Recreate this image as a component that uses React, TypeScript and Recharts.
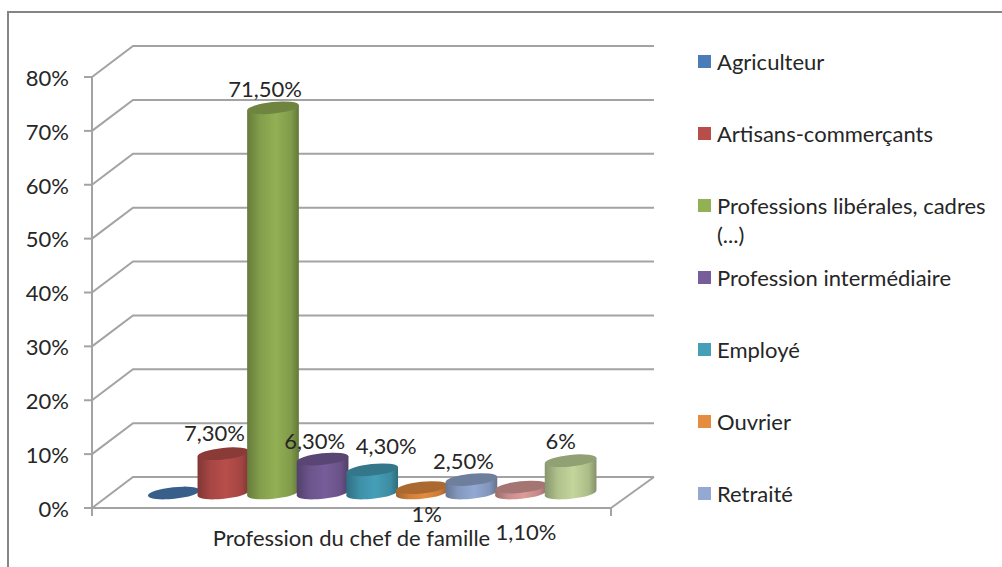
import { BarChart, Bar, XAxis, YAxis, CartesianGrid, Legend, LabelList } from 'recharts'

const category = 'Profession du chef de famille'
const seriesNames = [
  'Agriculteur',
  'Artisans-commerçants',
  'Professions libérales, cadres (...)',
  'Profession intermédiaire',
  'Employé',
  'Ouvrier',
  'Retraité',
  'Sans profession',
  'Autre',
]
const seriesValues = [0, 7.3, 71.5, 6.3, 4.3, 1, 2.5, 1.1, 6]
const seriesColors = ['#4a7db8', '#b84e4b', '#92b054', '#775d9a', '#459fb8', '#e48c40', '#93a9d3', '#dc9c9a', '#c3d69b']
const yTicks = [0, 10, 20, 30, 40, 50, 60, 70, 80]
const visibleLegendItems = 7

// labels were dragged by hand in the original, offsets from the top of each cylinder
const labelNudges = [
  [0, 0],
  [-9, -20],
  [-8, -18],
  [-8, -18],
  [14, -24],
  [5, 27],
  [-8, -18],
  [5, 45],
  [-10, -19],
]

const FONT = 'Lato, sans-serif'
const FONT_SIZE = 22
const TEXT = '#262626'
const GRID = '#a3a3a3'
const DEPTH_X = 41
const DEPTH_Y = 31
const BAR_DX = 21
const BAR_DY = 15
const BAR_SIZE = 49.6
const TILT = 6
const RY = 5.8

// dataKey is a plain id, series names hold dots that recharts would read as a path
const seriesKey = (i: number) => `s${i}`

const chartData = [
  seriesValues.reduce<Record<string, string | number>>(
    (row, value, i) => {
      row[seriesKey(i)] = value
      return row
    },
    { name: category },
  ),
]

const shade = (hex: string, k: number) => {
  const n = parseInt(hex.slice(1), 16)
  const c = [(n >> 16) & 255, (n >> 8) & 255, n & 255].map((v) => Math.round(v * k))
  return `rgb(${c[0]},${c[1]},${c[2]})`
}

const formatPct = (v: number) => (Number.isInteger(v) ? `${v}%` : `${v.toFixed(2).replace('.', ',')}%`)

// Cylinder drawn from the bar rectangle, pushed back to the middle of the floor
const Cylinder = ({ x, y, width, height, fill, seriesIndex }: any) => {
  const rx = width / 2 + 1.2
  const cx = x + width / 2 + BAR_DX
  const top = y - BAR_DY
  const base = y + height - BAR_DY
  const a = (TILT * Math.PI) / 180
  const ex = rx * Math.cos(a)
  const ey = rx * Math.sin(a)
  const id = `cyl-${seriesIndex}`
  return (
    <g>
      <defs>
        <linearGradient id={id} gradientUnits="userSpaceOnUse" x1={cx - ex} y1="0" x2={cx + ex} y2="0">
          <stop offset="0%" stopColor={shade(fill, 0.7)} />
          <stop offset="25%" stopColor={shade(fill, 0.9)} />
          <stop offset="55%" stopColor={fill} />
          <stop offset="85%" stopColor={shade(fill, 0.88)} />
          <stop offset="100%" stopColor={shade(fill, 0.68)} />
        </linearGradient>
      </defs>
      {height > 0 && (
        <path
          d={`M${cx - ex},${top + ey} L${cx - ex},${base + ey} A${rx},${RY} ${-TILT} 0 0 ${cx + ex},${base - ey} L${cx + ex},${top - ey} Z`}
          fill={`url(#${id})`}
        />
      )}
      <ellipse
        cx={cx}
        cy={top}
        rx={rx}
        ry={RY}
        transform={`rotate(${-TILT} ${cx} ${top})`}
        fill={shade(fill, 0.75)}
      />
    </g>
  )
}

const GridLine = ({ x1, x2, y1 }: any) => (
  <path
    d={`M${x1},${y1} L${x1 + DEPTH_X},${y1 - DEPTH_Y} L${x2 + DEPTH_X + 2},${y1 - DEPTH_Y}`}
    fill="none"
    stroke={GRID}
    strokeWidth={2}
  />
)

const makeLabel = (i: number) => (props: any) => {
  const { x, y, width, value } = props
  if (!value) return null
  return (
    <text
      x={x + width / 2 + BAR_DX + labelNudges[i][0]}
      y={y - BAR_DY + labelNudges[i][1]}
      dy="0.35em"
      textAnchor="middle"
      fontFamily={FONT}
      fontSize={FONT_SIZE}
      fill={TEXT}
    >
      {formatPct(value)}
    </text>
  )
}

const CategoryTick = ({ x, y, payload }: any) => (
  <g>
    <line x1={92} x2={92} y1={y - 8} y2={y} stroke={GRID} strokeWidth={2} />
    <line x1={611} x2={611} y1={y - 8} y2={y} stroke={GRID} strokeWidth={2} />
    <line x1={611} x2={611 + DEPTH_X + 2} y1={y - 8} y2={y - 8 - DEPTH_Y} stroke={GRID} strokeWidth={2} />
    <text x={x} y={y + 30} textAnchor="middle" fontFamily={FONT} fontSize={FONT_SIZE} fill={TEXT}>
      {payload.value}
    </text>
  </g>
)

const LegendList = ({ payload }: any) => (
  <div style={{ fontFamily: FONT, fontSize: FONT_SIZE, color: TEXT, lineHeight: '29px' }}>
    {(payload || []).slice(0, visibleLegendItems).map((item: any) => (
      <div key={item.value} style={{ height: 72, position: 'relative', paddingLeft: 19, width: 285 }}>
        <span
          style={{
            position: 'absolute',
            left: 0,
            top: 8,
            width: 13,
            height: 13,
            background: item.color,
          }}
        />
        {item.value}
      </div>
    ))}
  </div>
)

export default function App() {
  return (
    <div
      style={{
        position: 'absolute',
        left: 0,
        top: 0,
        width: 1002,
        height: 567,
        overflow: 'hidden',
        background: '#fff',
      }}
    >
      <div
        style={{
          position: 'absolute',
          left: 7,
          top: 11,
          width: 1200,
          height: 800,
          border: '2px solid #858585',
        }}
      />
      <BarChart
        width={1002}
        height={567}
        data={chartData}
        margin={{ top: 77, right: 391, bottom: 0, left: 8 }}
        barSize={BAR_SIZE}
        barGap={0}
        style={{ position: 'absolute', left: 0, top: 0 }}
      >
        <CartesianGrid vertical={false} horizontal={(p: any) => <GridLine key={p.key} {...p} />} />
        <XAxis
          dataKey="name"
          height={59}
          tickLine={false}
          axisLine={{ stroke: GRID, strokeWidth: 2 }}
          tick={CategoryTick}
          interval={0}
        />
        <YAxis
          width={84}
          domain={[0, 80]}
          ticks={yTicks}
          tickFormatter={(v: number) => `${v}%`}
          axisLine={{ stroke: GRID, strokeWidth: 2 }}
          tickLine={{ stroke: GRID, strokeWidth: 2 }}
          tickSize={8}
          tickMargin={15}
          tick={{ fontFamily: FONT, fontSize: FONT_SIZE, fill: TEXT, dy: 1 }}
        />
        <Legend
          layout="vertical"
          align="center"
          verticalAlign="middle"
          content={LegendList}
          itemSorter={null}
          wrapperStyle={{ left: 698, top: 47, width: 300 }}
        />
        {seriesNames.map((name, i) => (
          <Bar
            key={name}
            dataKey={seriesKey(i)}
            name={name}
            fill={seriesColors[i]}
            isAnimationActive={false}
            shape={(p: any) => <Cylinder {...p} seriesIndex={i} />}
          >
            <LabelList dataKey={seriesKey(i)} content={makeLabel(i)} />
          </Bar>
        ))}
      </BarChart>
    </div>
  )
}
